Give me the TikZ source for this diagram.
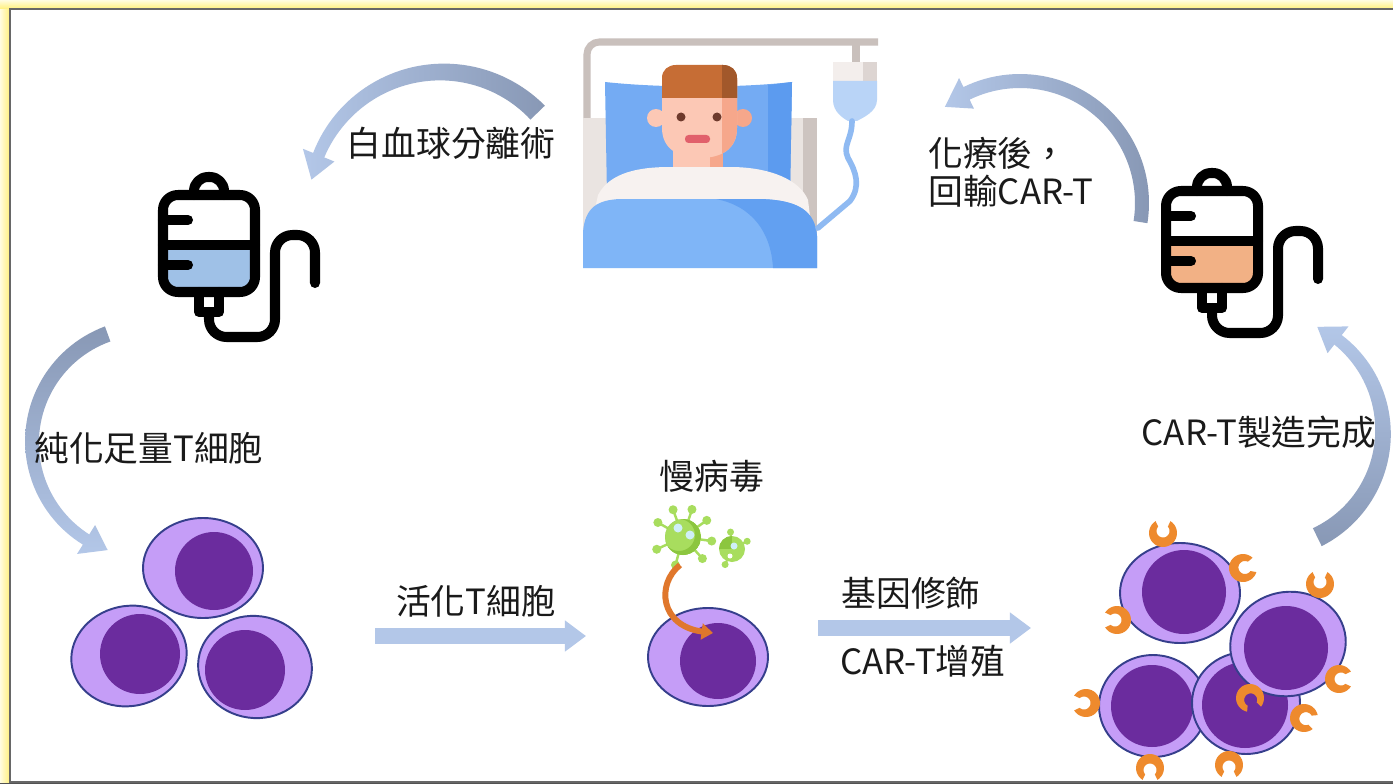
\documentclass[tikz,border=0pt]{standalone}
\usepackage{fontspec}
\setmainfont{Noto Sans CJK TC}
\usetikzlibrary{arrows.meta}

% palette
\definecolor{glowY}{HTML}{FFF07A}
\definecolor{glowPale}{HTML}{FFFCE0}
\definecolor{frameGray}{HTML}{676767}
\definecolor{flowLight}{HTML}{B3C7E8}
\definecolor{flowDark}{HTML}{8898B5}
\definecolor{cellBody}{HTML}{C59DF7}
\definecolor{cellRim}{HTML}{363F8C}
\definecolor{cellCore}{HTML}{6B2C9E}
\definecolor{carOrange}{HTML}{EE8A2D}
\definecolor{bagBlue}{HTML}{9FC1E7}
\definecolor{bagPeach}{HTML}{F2B185}
\definecolor{bedGray}{HTML}{C9C0BC}
\definecolor{boardLight}{HTML}{EAE4E1}
\definecolor{boardDark}{HTML}{CDC4C0}
\definecolor{pillow}{HTML}{74ABF3}
\definecolor{pillowDark}{HTML}{5C9BEF}
\definecolor{skin}{HTML}{FCC8B5}
\definecolor{skinDark}{HTML}{F6A78B}
\definecolor{hair}{HTML}{C66D35}
\definecolor{hairDark}{HTML}{A2582B}
\definecolor{eye}{HTML}{6E3A2C}
\definecolor{mouth}{HTML}{E1606B}
\definecolor{shirt}{HTML}{F7F2F0}
\definecolor{blanket}{HTML}{7FB5F7}
\definecolor{blanketDark}{HTML}{62A0F1}
\definecolor{dripTop}{HTML}{F3EEEC}
\definecolor{dripTopDark}{HTML}{DDD5D2}
\definecolor{dripFluid}{HTML}{B9D4F7}
\definecolor{dripTube}{HTML}{8FBAF2}
\definecolor{virusGreen}{HTML}{A8DD5E}
\definecolor{virusDark}{HTML}{8CC63F}
\definecolor{virusSpot}{HTML}{CFEFF8}
\definecolor{injectOrange}{HTML}{E0772C}
\definecolor{labelInk}{HTML}{1A1A1A}

% thick bent arrow along a circle: shading, cx, cy, r, tail angle, head-base angle, tip angle, tail half-width, head-side half-width
\newcommand{\bentarrow}[9]{%
  \shade[#1]
    plot[domain=#5:#6, samples=50]
      ({#2+(#4+(#8)+((#9)-(#8))*(\x-(#5))/((#6)-(#5)))*cos(\x)},
       {#3+(#4+(#8)+((#9)-(#8))*(\x-(#5))/((#6)-(#5)))*sin(\x)})
    -- ({#2+(#4+17)*cos(#6)}, {#3+(#4+17)*sin(#6)})
    -- ({#2+(#4)*cos(#7)}, {#3+(#4)*sin(#7)})
    -- ({#2+(#4-17)*cos(#6)}, {#3+(#4-17)*sin(#6)})
    -- plot[domain=#6:#5, samples=50]
      ({#2+(#4-(#8)-((#9)-(#8))*(\x-(#5))/((#6)-(#5)))*cos(\x)},
       {#3+(#4-(#8)-((#9)-(#8))*(\x-(#5))/((#6)-(#5)))*sin(\x)})
    -- cycle;}

\tikzset{
  lbl/.style={inner sep=0pt, text=labelInk, font=\fontsize{19.8pt}{21.5pt}\selectfont},
  bagline/.style={line width=5.7pt, line cap=round, line join=round, black},
  flatflow/.style={draw=flowLight, line width=9.5pt,
    -{Triangle[width=17pt,length=12pt]}},
  cellwall/.style={fill=cellBody, draw=cellRim, line width=1.1pt},
  core/.style={fill=cellCore},
  pics/ivbag/.style={code={
    \begin{scope}
      \clip (-52,1) rectangle (52,54);
      \fill[#1, rounded corners=8.5pt] (-46,-49) rectangle (46,48);
    \end{scope}
    \draw[bagline, rounded corners=8.5pt] (-46,-49) rectangle (46,48);
    \draw[bagline] (-46,1) -- (46,1);
    \draw[bagline] (-46,-24) -- (-21,-24) (-46,21) -- (-21,21);
    \draw[bagline, rounded corners=8pt] (-15,-49) -- (-15,-67) -- (15,-67) -- (15,-49);
    \draw[bagline] (-10,48) -- (-10,68) -- (10,68) -- (10,48);
    \draw[bagline, rounded corners=10pt] (0,68) -- (0,93) -- (66,93) -- (66,-9) -- (106,-9) -- (106,39);
  }},
  % horseshoe-shaped receptor, open towards local +x
  pics/carRec/.style={code={
    \fill[carOrange]
      plot[domain=32:328, samples=30] ({14*cos(\x)}, {14*sin(\x)})
      -- plot[domain=312:48, samples=30] ({2+6.5*cos(\x)}, {6.5*sin(\x)})
      -- cycle;
  }}
}

\begin{document}
\begin{tikzpicture}[x=0.02cm, y=-0.02cm]
\useasboundingbox (0,0) rectangle (1393,784);

% ---------- frame ----------
\fill[glowY] (0,0) rectangle (1393,784);
\shade[left color=glowPale, right color=glowY] (0,0) rectangle (10,784);
\shade[top color=glowPale, bottom color=glowY] (0,0) rectangle (1393,9);
\fill[white] (10,9) rectangle (1393,782);
\draw[frameGray, line width=1.2pt] (1393,9) -- (10,9) -- (10,782) -- (1393,782);
\fill[frameGray!80!black] (0,783) rectangle (1393,784);

% ---------- patient in bed ----------
\coordinate (patient) at (700,150);
\draw[bedGray, line width=4pt, rounded corners=7pt] (587,120) -- (587,42) -- (878,42);
\draw[bedGray, line width=4pt] (856,42) -- (856,64);
\fill[boardLight] (583,118) rectangle (817,268);
\fill[boardDark] (803,118) rectangle (817,268);
% pillow
\fill[pillow] (605,82) .. controls (660,88) and (740,88) .. (792,82) -- (790,196) -- (607,196) -- cycle;
\fill[pillowDark] (768,85) -- (792,82) -- (790,196) -- (768,196) -- cycle;
% ears and neck
\fill[skin] (656,118) circle[radius=9];
\fill[skinDark] (743,118) circle[radius=9];
\fill[skin] (673,148) rectangle (723,184);
\fill[skinDark] (710,148) rectangle (723,184);
% face
\begin{scope}
  \clip (662,80) -- (662,128) .. controls (662,150) and (680,158) .. (700,158)
        .. controls (720,158) and (737,150) .. (737,128) -- (737,80) -- cycle;
  \fill[skin] (655,75) rectangle (745,165);
  \fill[skinDark] (722,75) rectangle (745,165);
\end{scope}
% hair
\begin{scope}
  \clip (662,98) -- (662,78) .. controls (662,70) and (668,65) .. (676,65) -- (723,65)
        .. controls (731,65) and (737,70) .. (737,78) -- (737,98) -- cycle;
  \fill[hair] (655,60) rectangle (745,100);
  \fill[hairDark] (722,60) rectangle (745,100);
\end{scope}
\fill[eye] (681,117) circle[radius=4.5] (717,117) circle[radius=4.5];
\fill[mouth, rounded corners=2pt] (685,135) rectangle (710,143);
% shirt and blanket
\fill[shirt] (590,232) -- (598,195) .. controls (610,172) and (640,167) .. (670,167) -- (730,167)
  .. controls (770,167) and (800,180) .. (808,200) -- (812,232) -- cycle;
\fill[blanket] (583,268) -- (583,232) .. controls (585,207) and (598,200) .. (620,199) -- (760,199)
  .. controls (800,200) and (815,212) .. (817,236) -- (817,268) -- cycle;
\fill[blanketDark] (716,199) -- (760,199) .. controls (800,200) and (815,212) .. (817,236) -- (817,268)
  -- (773,268) .. controls (771,232) and (752,206) .. (716,199) -- cycle;
% drip bag and line
\fill[dripTop] (833,62) rectangle (877,81);
\fill[dripTopDark] (863,62) rectangle (877,81);
\fill[dripFluid] (833,81) -- (877,81) -- (877,100) .. controls (877,112) and (862,118) .. (857,121)
  -- (848,121) .. controls (843,118) and (833,112) .. (833,100) -- cycle;
\draw[dripTube, line width=3.2pt, line cap=round]
  (852,121) .. controls (852,140) and (842,145) .. (848,158)
  .. controls (856,172) and (861,186) .. (850,201) -- (818,228);

% ---------- blood bags ----------
\coordinate (bagL) at (209,244);
\coordinate (bagR) at (1212,240);
\pic at (bagL) {ivbag=bagBlue};
\pic at (bagR) {ivbag=bagPeach};

% ---------- resting T cells ----------
\filldraw[cellwall] (203,568) ellipse[x radius=60, y radius=50];
\fill[core] (214,571) circle[radius=39];
\filldraw[cellwall, rotate around={12:(129,656)}] (129,656) ellipse[x radius=58, y radius=50];
\fill[core] (140,654) circle[radius=40];
\filldraw[cellwall, rotate around={-8:(255,667)}] (255,667) ellipse[x radius=57, y radius=51];
\fill[core] (245,670) circle[radius=40];

% ---------- transduced T cell with lentivirus ----------
\filldraw[cellwall] (708,657) ellipse[x radius=60, y radius=49];
\fill[core] (718,661) circle[radius=38];

\begin{scope}[shift={(683,537)}]
  \foreach \a in {-110,-72,-35,8,48,105,155,-150} {
    \draw[virusGreen, line width=1.4pt] (0,0) -- (\a:27);
    \fill[virusGreen] (\a:29) circle[radius=4.5];
  }
  \fill[virusGreen] (0,0) circle[radius=18];
  \begin{scope}
    \clip (0,0) circle[radius=18];
    \fill[virusDark, even odd rule] (0,0) circle[radius=18] (-4,-2) circle[radius=16];
  \end{scope}
  \fill[virusSpot] (-5,-9) circle[radius=4.5] (7,-2) circle[radius=4.5];
\end{scope}
\begin{scope}[shift={(732,549)}]
  \foreach \a in {-27,114,-95} {
    \draw[virusGreen, line width=1.2pt] (0,0) -- (\a:16);
    \fill[virusGreen] (\a:17) circle[radius=3.5];
  }
  \fill[virusGreen] (0,0) circle[radius=13];
  \begin{scope}
    \clip (0,0) circle[radius=13];
    \fill[virusDark] (-13,-13) rectangle (0,0);
  \end{scope}
  \fill[virusSpot] (2,-3) circle[radius=3.5];
  \fill[white] (-2,7) circle[radius=2.5];
\end{scope}
\coordinate (virOut) at (680,565);
\coordinate (cellIn) at (713,633);
\draw[injectOrange, line width=3.4pt, -{Triangle[width=9pt,length=6.5pt]}]
  (virOut) .. controls (656,584) and (660,626) .. (cellIn);

% ---------- expanded CAR-T cells ----------
\filldraw[cellwall] (1180,593) ellipse[x radius=60, y radius=50];
\fill[core] (1184,592) circle[radius=42];
\filldraw[cellwall] (1153,706) ellipse[x radius=54, y radius=51];
\fill[core] (1152,706) circle[radius=41];
\filldraw[cellwall] (1246,703) ellipse[x radius=54, y radius=51];
\fill[core] (1245,705) circle[radius=43];
\filldraw[cellwall, rotate around={12:(1288,644)}] (1288,644) ellipse[x radius=58, y radius=52];
\fill[core] (1286,648) circle[radius=42];
% receptors
\pic[rotate=90]  at (1163,533) {carRec};
\pic[rotate=15]  at (1243,568) {carRec};
\pic[rotate=180] at (1117,620) {carRec};
\pic[rotate=90]  at (1320,584) {carRec};
\pic[rotate=180] at (1086,703) {carRec};
\pic[rotate=0]   at (1339,679) {carRec};
\pic[rotate=-70] at (1250,698) {carRec};
\pic[rotate=-20] at (1304,718) {carRec};
\pic[rotate=-90] at (1150,768) {carRec};
\pic[rotate=-90] at (1229,765) {carRec};

% ---------- process arrows ----------
\bentarrow{left color=flowLight, right color=flowDark}{442}{205}{133}{-44}{-158}{-169}{10}{6}
\bentarrow{left color=flowLight, right color=flowDark}{1020}{203}{122}{9}{-116}{-128}{7}{7}
\bentarrow{top color=flowDark, bottom color=flowLight}{147}{442}{115}{-110}{-238}{-250}{8}{6}
\bentarrow{top color=flowLight, bottom color=flowDark}{1266}{432}{117}{64}{-52}{-64}{10}{6}

\coordinate (actFrom) at (375,636);
\coordinate (actTo) at (586,636);
\coordinate (modFrom) at (818,628);
\coordinate (modTo) at (1031,628);
\draw[flatflow] (actFrom) -- (actTo);
\draw[flatflow] (modFrom) -- (modTo);

% ---------- labels ----------
\node[lbl] (tApher) at (451,143) {白血球分離術};
\node[lbl, anchor=west, align=left] (tInfuse) at (928,172) {化療後，\\回輸CAR-T};
\node[lbl] (tPurify) at (149,448) {純化足量T細胞};
\node[lbl] (tActivate) at (476,601) {活化T細胞};
\node[lbl] (tVirus) at (712,476) {慢病毒};
\node[lbl] (tModify) at (911,593) {基因修飾};
\node[lbl] (tExpand) at (923,661) {CAR-T增殖};
\node[lbl] (tDone) at (1259,432) {CAR-T製造完成};
\end{tikzpicture}
\end{document}
